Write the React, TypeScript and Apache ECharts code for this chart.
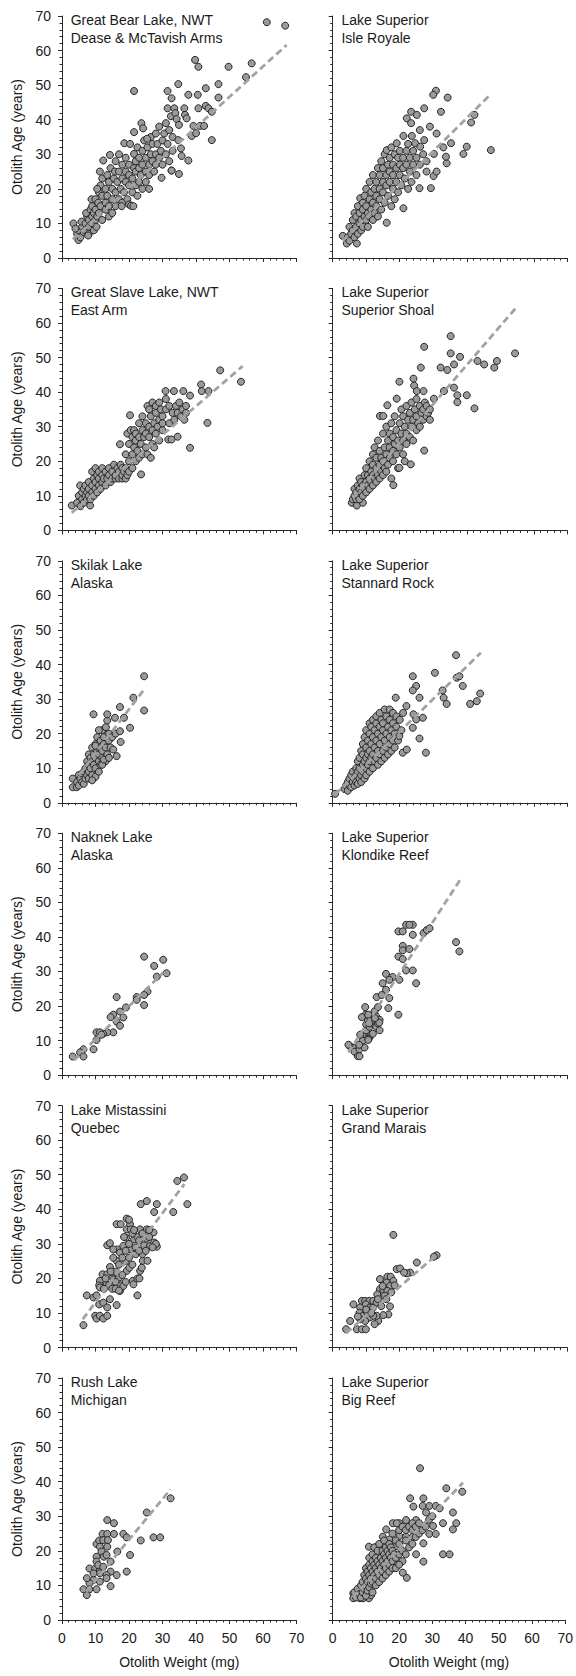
import React, { useEffect, useRef } from "react";
import * as echarts from "echarts";

// ---------- data ----------
const panelTitles: string[] = [
  "Great Bear Lake, NWT\nDease & McTavish Arms",
  "Lake Superior\nIsle Royale",
  "Great Slave Lake, NWT\nEast Arm",
  "Lake Superior\nSuperior Shoal",
  "Skilak Lake\nAlaska",
  "Lake Superior\nStannard Rock",
  "Naknek Lake\nAlaska",
  "Lake Superior\nKlondike Reef",
  "Lake Mistassini\nQuebec",
  "Lake Superior\nGrand Marais",
  "Rush Lake\nMichigan",
  "Lake Superior\nBig Reef",
];

const axisTicks: number[] = [0, 10, 20, 30, 40, 50, 60, 70];

const greatBearPts: number[][] = [
  [3.4, 10], [4.9, 5.2], [4.5, 7], [5, 8], [5.5, 6], [6, 9], [5.8, 10.5], [6.5, 7.5], [4, 8.5],
  [7, 8], [7, 10], [7.5, 12], [7.2, 13], [8, 9], [8, 11], [8.5, 14], [8, 7], [9, 10], [9, 12], [9, 15], [8.8, 17], [9.5, 13], [9.5, 8], [7.8, 6.5],
  [10, 11], [10, 14], [10, 17], [10.3, 9], [10.5, 12], [10.8, 16], [11, 19], [11, 13], [11.3, 25], [11.5, 21], [11.5, 15], [12, 18], [12, 11], [12.3, 28.2], [12, 23], [10.5, 20],
  [13, 14], [13, 16], [13, 20], [13.5, 24], [13.5, 18], [14, 12], [14, 15], [14, 22], [14.3, 29.8], [14.5, 26], [15, 17], [15, 20], [15, 13], [15.5, 23], [15.8, 25], [16, 15], [16, 19], [16, 28],
  [16.5, 22], [17, 17], [17, 25], [17, 30], [17.5, 20], [18, 16], [18, 23], [18, 27], [18.6, 33.2], [18.5, 19], [19, 22], [19, 25], [19, 29], [19.5, 17], [20, 21], [20, 24], [20, 27], [20, 15.5],
  [20.6, 15.1], [21.3, 15], [21, 19], [21, 23], [21.5, 30.1], [21.5, 26], [21.5, 36.4], [22, 21], [22, 25], [22, 28], [22.5, 18], [22.5, 32], [23, 22], [23, 26], [23, 29], [23.7, 39], [23.5, 24], [24, 20], [24, 27], [24, 31], [17.8, 15],
  [24.5, 34], [25, 22], [25, 25], [25, 29], [25.5, 32], [26, 27], [26, 24], [26.5, 30], [26.5, 35], [27, 28], [27, 33], [27.5, 25], [28, 30], [28, 27], [28, 36], [26, 20],
  [28.5, 33], [29, 29], [29, 38], [29.5, 31], [29.7, 23.2], [30, 27], [30, 34], [30.5, 36], [31, 30], [31, 39], [31.5, 33], [32, 28], [32, 37], [32.7, 25.3], [33, 35], [33, 31], [32.5, 41],
  [61.1, 68.2], [66.6, 67.2], [39.7, 57.3], [40.7, 55.3], [49.7, 55.3], [56.6, 56.3], [54.9, 52.3], [46.7, 50.3], [34.7, 50.3], [21.5, 48.3], [31.5, 48.3], [40.5, 47.2], [37.7, 47.2], [42.9, 49.1], [32.7, 46.2], [46.7, 46.4],
  [31.5, 43.3], [33.5, 43.3], [40.7, 43.3], [42.9, 44], [43.7, 43.3], [44.7, 42.3], [36.5, 43.3], [36.7, 41.4], [33.8, 41.9], [34.2, 40.2], [34.9, 38.5], [37.2, 40.4], [39.2, 38.2], [41.2, 38.2], [42.4, 38.2],
  [38.7, 35.3], [40, 36.1], [44.7, 34.1], [34.7, 34.1], [35.5, 31.7], [35.7, 29.5], [37.7, 28.2], [34.9, 24.3], [32.7, 25.3], [25.4, 34.5], [20.3, 33], [24.2, 37.5],
];
const greatBearFit: number[][] = [[3.2, 5.4], [67, 61.6]];

const isleRoyalePts: number[][] = [
  [3, 6.4], [4.2, 4.2], [7.2, 4.2], [4.5, 6], [5, 5], [5.5, 7], [5, 9], [6, 8], [6, 11], [6.5, 6], [6.5, 13], [7, 9], [7, 12], [7.5, 7], [7.5, 15],
  [8, 10], [8, 13], [8.2, 17.3], [8.5, 8], [8.5, 11], [9, 14], [9, 16], [9, 9], [9.5, 12], [9.5, 18], [10, 11], [10, 15], [10, 20], [10.5, 13], [10.5, 9],
  [11, 17], [11, 22], [11, 12], [11.5, 14], [11.5, 19], [12, 16], [12, 11], [12, 24], [12.5, 20], [12.5, 13], [13, 18], [13, 22], [13, 15], [13.5, 26], [13.5, 12],
  [14, 17], [14, 20], [14, 24], [14.5, 14], [14.5, 28], [15, 19], [15, 22], [15, 26], [15.5, 16], [15.5, 30], [16, 21], [16, 24], [16.1, 31.2], [16.1, 10.2],
  [16.5, 18], [16.5, 27], [17, 22], [17, 25], [17, 29], [17.5, 15], [17.5, 32], [18, 20], [18, 24], [18, 27], [18.5, 30], [18.5, 17], [19, 22], [19, 26], [19.1, 33.2],
  [19.5, 29], [19.5, 19], [20, 24], [20, 27], [20, 31], [20.5, 21], [21, 26], [21.1, 35.3], [21, 29], [21.1, 14.4], [21.5, 23], [22, 27], [22, 31], [22.5, 20], [22.5, 33],
  [23, 25], [23, 29], [23.6, 35.3], [23.5, 22], [24, 27], [24, 31], [24.6, 33.2], [25, 24], [25, 29], [25.9, 20.2], [26.1, 32.2], [26, 27], [27, 30], [27.3, 34.1],
  [28, 28], [28, 25], [29.3, 20.2], [30.1, 23.7], [31, 25], [30.2, 30.1], [34, 27.4], [33.8, 29.3], [35.3, 33.2], [33, 32], [40, 32.2], [39, 30.1], [47.2, 31.2],
  [41.3, 39.2], [42.3, 41.4], [32.3, 42.3], [27.3, 43.3], [23.4, 42.3], [25.1, 41.4], [22.1, 40.4], [23.4, 39], [30.8, 48.4], [30, 47.2], [34.3, 46.4], [31, 36], [29, 38], [26, 37],
];
const isleRoyaleFit: number[][] = [[3, 5], [47.2, 47.4]];

const greatSlavePts: number[][] = [
  [2.9, 7.2], [5.4, 13], [8.4, 7.2], [4.5, 8], [5, 10], [5.5, 7], [6, 9], [6, 11], [6.5, 12], [6.5, 8], [7, 10], [7, 13], [7.5, 9], [7.5, 11], [8, 12], [8, 10], [8, 14],
  [8.5, 9], [9, 11], [9, 13], [9, 17], [9.5, 10], [9.5, 15], [10, 12], [10, 14], [10, 18], [10.5, 11], [10.5, 16], [11, 13], [11, 15], [11, 17], [11.5, 12], [12, 14], [12, 16], [12, 18],
  [12.5, 15], [13, 13], [13, 17], [13.5, 15], [14, 16], [14, 18], [14.5, 14], [15, 15], [15, 17], [15.5, 19], [16, 15], [16, 16], [16.5, 18], [17, 15], [17, 17], [17.3, 24.9],
  [17.5, 19], [18, 15], [18, 16], [18, 18], [18.5, 17], [19, 15], [19, 18], [19, 22], [19.5, 16], [19.5, 28], [20, 17], [20, 20], [20, 25], [20.3, 33.3], [20.5, 29],
  [21, 18], [21, 22], [21, 27], [21.5, 24], [21.5, 29], [22, 20], [22, 26], [22, 28], [22.5, 23], [23, 21], [23, 27], [23, 31], [23.6, 16.2], [23.5, 25], [24, 22], [24, 29], [24, 33],
  [24.5, 27], [25, 24], [25, 28], [25, 31], [25.5, 36], [25.5, 22], [26, 27], [26, 30], [26, 35], [26.5, 21], [26.5, 33], [27, 25], [27, 29], [27, 37], [27.5, 31], [27.5, 24],
  [28, 28], [28, 34], [28, 36], [28.5, 30], [29, 26], [29, 32], [29, 37], [29.5, 35], [30, 29], [30, 33], [30, 31], [30.9, 40.3], [31, 35], [31, 38], [31.7, 26.3], [32, 31],
  [32.7, 26.3], [32, 36], [33, 34], [33.4, 40.3], [33.5, 32], [34, 36], [34.5, 27.1], [34.5, 34], [35, 37], [35.5, 33], [36, 35], [36.2, 40.3], [36.5, 32], [37, 34], [37, 36],
  [38.2, 39], [38.2, 23.9], [41.5, 42.2], [41.7, 40.3], [43.7, 40.3], [43.4, 31.1], [47.2, 46.3], [53.4, 43],
];
const greatSlaveFit: number[][] = [[2.9, 5.1], [53.9, 47.5]];

const superiorShoalPts: number[][] = [
  [5.7, 8], [7.2, 7.2], [9, 8], [6, 9], [6.5, 10], [6.5, 12], [7, 9], [7, 11], [7.5, 13], [7.5, 10], [8, 9], [8, 12], [8, 15], [8.5, 11], [8.5, 14], [9, 10], [9, 13],
  [9.5, 16], [9.5, 12], [10, 11], [10, 14], [10, 18], [10.5, 13], [10.5, 16], [11, 12], [11, 15], [11, 20], [11.5, 14], [11.5, 17], [12, 13], [12, 16], [12, 19], [12, 22],
  [12.5, 15], [12.5, 24], [13, 14], [13, 18], [13, 21], [13.5, 16], [13.5, 26], [14, 15], [14, 19], [14, 23], [14.1, 33.1], [14.5, 17], [14.5, 21], [15, 16], [15, 20], [15, 28],
  [15.1, 33.1], [15.5, 18], [15.5, 24], [16, 17], [16, 22], [16, 30], [16.3, 36.2], [16.5, 19], [16.5, 26], [17, 21], [17, 24], [17, 28], [17.5, 15], [17.5, 31], [18, 20],
  [18, 23], [18, 27], [18.1, 13.1], [18.5, 25], [18.5, 33], [19, 22], [19, 29], [19.1, 38.1], [19.5, 18], [19.5, 26], [19.9, 18.1], [20, 24], [20, 31], [20.5, 28], [20.5, 35],
  [21, 22], [21, 26], [21, 33], [21.5, 20], [21.5, 30], [22, 25], [22, 28], [22, 36], [22.5, 32], [23, 27], [23, 34], [23.3, 19.1], [23.5, 30], [23.5, 37], [24, 26], [24, 32],
  [24.5, 35], [25, 29], [25, 33], [25, 38], [25.5, 31], [26, 30], [26, 36], [26.5, 34], [27, 32], [27, 35], [27.3, 23.1], [27.5, 37], [28, 33], [28, 36], [28.5, 34], [29, 35], [29, 32],
  [26.3, 47.1], [19.9, 43], [24.1, 43.9], [24.3, 41.9], [25.1, 40.3], [27.1, 40.3], [30.2, 38.1], [33.2, 40.3], [36.2, 41.3], [37.2, 39.1], [40, 39.1], [37.2, 37.1], [42.3, 35.3],
  [32.2, 47.1], [34.2, 46.4], [36.2, 48], [35.2, 51.2], [38, 50.2], [35.2, 56.2], [27.3, 53.1], [43.2, 49], [45.2, 48], [48.2, 47.1], [49, 49], [54.4, 51.2],
];
const superiorShoalFit: number[][] = [[6, 9.5], [54.7, 64.4]];

const skilakPts: number[][] = [
  [3.2, 7], [3.2, 4.5], [4.4, 4.5], [4.5, 6], [5, 5], [5, 8], [5.5, 7], [6, 6], [6, 8.5], [6.5, 5.5], [6.5, 9], [7, 7], [7, 10], [7.5, 8], [7.5, 12], [8, 7], [8, 9], [8, 11], [8, 14],
  [8.5, 10], [8.5, 13], [9, 8], [9, 12], [9, 16], [9.4, 25.6], [9.5, 11], [9.5, 14], [10, 10], [10, 13], [10, 17], [10, 7.5], [10.5, 15], [10.5, 19], [11, 12], [11, 14], [11, 16],
  [11.5, 18], [11.5, 11], [12, 13], [12, 15], [12, 21], [12.5, 17], [12.5, 19], [13, 12], [13, 16], [13.1, 21.9], [13.5, 23.8], [13.5, 25.6], [13.5, 14], [14, 18], [14, 20],
  [14.5, 16], [15, 19], [15.3, 15.4], [15.8, 24.6], [16.3, 13.5], [16, 20], [17.3, 20.7], [17.3, 27.7], [17.5, 17.6], [18.5, 24.6], [20.3, 21.7], [21.3, 30.4], [24.5, 36.6],
  [24.5, 26.7], [11, 21], [12, 11], [9, 6.5], [11, 9], [12.5, 12.5], [14, 13], [10, 16.5],
];
const skilakFit: number[][] = [[5, 8], [24.3, 32.5]];

const stannardRockPts: number[][] = [
  [0.7, 2.6], [3.5, 4], [4, 5], [4.5, 6], [4.5, 3.5], [5, 5], [5, 7], [5.5, 4.5], [5.5, 8], [6, 6], [6, 9], [6.5, 5], [6.5, 7], [7, 6], [7, 8], [7, 10], [7.5, 5.5], [7.5, 9],
  [7.5, 12], [8, 7], [8, 10], [8, 13], [8.5, 6], [8.5, 8], [8.5, 15], [9, 9], [9, 11], [9, 14], [9, 17], [9.5, 7], [9.5, 12], [9.5, 19], [10, 8], [10, 10], [10, 13], [10, 16],
  [10, 21], [10.5, 11], [10.5, 14], [10.5, 18], [11, 9], [11, 12], [11, 15], [11, 20], [11, 23], [11.5, 13], [11.5, 17], [11.5, 22], [12, 10], [12, 14], [12, 19], [12, 24],
  [12.5, 12], [12.5, 16], [12.5, 21], [13, 13], [13, 18], [13, 23], [13, 25], [13.5, 11], [13.5, 15], [13.5, 20], [14, 14], [14, 17], [14, 22], [14, 26], [14.5, 12], [14.5, 19],
  [14.5, 24], [15, 15], [15, 21], [15, 23], [15.5, 13], [15.5, 18], [15.5, 27], [16, 16], [16, 20], [16, 25], [16.5, 14], [16.5, 22], [17, 17], [17, 19], [17, 24], [17, 27],
  [17.5, 15], [17.5, 21], [18, 18], [18, 23], [18, 26], [18.5, 16], [18.5, 20], [18.8, 30.4], [19, 22], [19, 25], [19.5, 18], [19.9, 19.3], [20, 24], [20.9, 14.5], [22.1, 15.4],
  [23.9, 21.7], [24.1, 25.6], [24.9, 24.1], [26.9, 24.6], [25.9, 18.6], [27.8, 14.5], [23.9, 36.6], [24.9, 33.8], [23.9, 32.5], [25.9, 30.4], [30.5, 37.6], [32.8, 32.5],
  [33.1, 30.4], [34, 28.6], [36.8, 42.7], [37, 36.2], [37.8, 36.6], [38.8, 33.8], [44, 31.6], [43, 29.4], [41, 28.6], [21, 26], [22, 28], [20.5, 21],
];
const stannardRockFit: number[][] = [[0.7, 2.4], [44.2, 43.4]];

const naknekPts: number[][] = [
  [24.5, 34.3], [30.2, 33.4], [27.5, 31.6], [31.2, 29.5], [28.3, 28.5], [24.5, 20.3], [25.5, 24.2], [24.5, 23.2], [22.3, 22.6], [22.3, 21.8], [16.3, 22.6], [19.1, 19.6],
  [17.3, 18.4], [15.3, 17.5], [14.5, 16.8], [18.3, 16.7], [16.3, 15.5], [17.3, 14.3], [15.3, 12.4], [13.5, 12.4], [12.3, 12], [10.3, 12.4], [11.3, 12.4], [10.3, 10.2],
  [9.4, 7.5], [6.4, 7.5], [5.4, 6.6], [6.4, 5.4], [3.2, 5.4], [11.8, 11.7],
];
const naknekFit: number[][] = [[3.6, 4.3], [30.2, 29.7]];

const klondikePts: number[][] = [
  [21.9, 43.5], [23.9, 43.5], [22.9, 43.5], [19.6, 41.6], [20.9, 41.6], [23.9, 40.6], [27.1, 41.1], [28.1, 42], [28.9, 42.5], [20.9, 37.4], [20.9, 36.1], [22.9, 36.5],
  [19.6, 34.3], [20.9, 33.6], [21.9, 30.3], [23.9, 30.3], [24.9, 26.6], [19.9, 27.6], [17.9, 28.4], [15.9, 29.3], [14.9, 26.6], [16.9, 27.6], [15.9, 24.7], [13.1, 22.6],
  [16.9, 22.3], [14.6, 23.2], [16.6, 19.4], [19.6, 17.5], [36.8, 38.5], [37.8, 35.8],
  [6, 8], [5, 8.5], [6.5, 6.8], [7.5, 5.5], [8, 5.5], [8, 7.5], [8.5, 9], [9, 10], [9, 12], [10, 13], [10, 14.7], [10.5, 16], [11, 11], [11, 14], [11, 17], [11.5, 15],
  [12, 12], [12, 16], [12.5, 18.5], [13, 14], [13, 17], [13.5, 15], [14, 13], [14, 16], [9.5, 8], [10.7, 10.5], [9.8, 17.5], [13.5, 19.7], [9.7, 19.7], [8.7, 16.8],
  [10.6, 17.5], [10.9, 15], [10.6, 10.2], [13.9, 15.2], [12.6, 16.5], [7.9, 8.8], [4.7, 8.8], [8.2, 11.7],
];
const klondikeFit: number[][] = [[4.7, 6.6], [38, 56.5]];

const mistassiniPts: number[][] = [
  [6.4, 6.5], [7.4, 15.1], [9.4, 14.5], [10.3, 15.1], [9.9, 9.2], [10.3, 8.4], [11.3, 9.2], [12.3, 8.4], [13.5, 9.2], [11.1, 12.5], [12.3, 13], [13.5, 11.6], [14.3, 14],
  [16.3, 12.3], [11.3, 19.3], [11.1, 18], [11.3, 17.4], [12.1, 21.2], [13.5, 21.2], [13.5, 29.6], [14.3, 30.2], [14.3, 23.3], [15.3, 19.8], [15.3, 21.7], [16.3, 25.1],
  [16.5, 28.4], [16.3, 35.7], [17.5, 35.7], [15.3, 28.4], [17.1, 20.3], [17.5, 18], [17.3, 16.4], [18.3, 17.8], [18.3, 29.4], [19.3, 37.3], [19.3, 34.2], [19.1, 31.8],
  [19.1, 25.1], [19.3, 22.2], [20.3, 35.7], [20.5, 34.2], [20.3, 28.4], [20.1, 23.1], [21.1, 19.3], [21.5, 31.3], [21.3, 18.3], [22.5, 20], [22.5, 15.1], [23.3, 22.2],
  [23.3, 34.2], [22.5, 32], [23.5, 41.5], [25.3, 42.4], [25.3, 34.2], [24.5, 29.6], [24.1, 25.1], [25.5, 25.1], [23.1, 20], [23.8, 23.1], [26.3, 29.4], [27.5, 30.4],
  [28.3, 29.2], [27.3, 33.3], [27.5, 39.2], [28.3, 41.5], [33.2, 39.2], [34.4, 48.2], [36.4, 49.2], [37.4, 41.5], [25.3, 31.5], [13.3, 18.3], [15.3, 26], [17.3, 27.5],
  [14, 18], [15, 17], [16, 19], [16, 22], [17, 24], [18, 21], [18, 26], [19, 19], [19, 28], [20, 26], [20, 30], [21, 24], [21, 33], [22, 27], [22, 29], [23, 31], [24, 33],
  [24, 27], [25, 28], [26, 34], [26, 32], [12.5, 17], [13, 20], [14.5, 22], [16, 17], [17, 16.5], [18.5, 32], [20, 37], [21.5, 34], [23, 28], [28, 30], [27, 29],
];
const mistassiniFit: number[][] = [[6.2, 8.2], [36.5, 47.3]];

const grandMaraisPts: number[][] = [
  [18.1, 32.6], [31, 26.7], [30.2, 26.3], [25.1, 24.6], [23.1, 21.7], [22.1, 21.5], [19.1, 22.7], [20.1, 22.9], [21.3, 21.7], [16.3, 20.5], [17.3, 20.5], [18.1, 19.3],
  [15.1, 17.8], [16.1, 18.8], [17.1, 17.8], [14.1, 16.9], [15.1, 16.7], [16.3, 16.4], [13.3, 15.4], [8.7, 13.5], [9.7, 13.5], [10.9, 13.5], [12.1, 13.5], [6.2, 12.5],
  [9.9, 12.5], [13.1, 13], [17.1, 11.9], [16.6, 9.6], [15.1, 9.4], [13.6, 7.7], [13.1, 9.2], [8.2, 11.6], [8, 10.1], [9, 9.2], [10.3, 10.1], [11.1, 8.7], [12.1, 9.2],
  [9.7, 7.7], [7.2, 5.3], [8.7, 5.3], [9.9, 5.3], [5.2, 7.7], [4, 5.3], [8.2, 8.2], [11.1, 11.6], [14.1, 19.8], [14.9, 17.8],
  [10, 11], [12, 11.5], [13.5, 14], [15.5, 15], [17.5, 16], [18.5, 18], [11.5, 10], [14.5, 12], [16, 14], [12.5, 6.8], [7.5, 9],
];
const grandMaraisFit: number[][] = [[4, 4.2], [31.2, 27]];

const rushLakePts: number[][] = [
  [32.4, 35.2], [25.3, 31.1], [13.5, 28.9], [15.5, 28], [12.1, 24.9], [13.5, 24.9], [15.5, 24.9], [18.3, 24.9], [19.3, 23.9], [23.5, 23], [27.3, 23.9], [29.3, 23.9],
  [20.3, 18.8], [16.5, 19.8], [10.3, 22], [11.1, 23], [12.3, 23.1], [13.7, 23.1], [11.3, 21.2], [13.5, 21.2], [11.8, 19.8], [12.5, 18.3], [10.3, 18.3], [10.3, 16.9],
  [14.5, 16.9], [13.3, 18.8], [8.2, 14.9], [9.9, 14.9], [11.3, 14.5], [11.3, 13.5], [14.5, 14], [16.3, 13], [13.3, 13], [13.3, 12.1], [19.3, 14], [14.5, 9.8], [11.3, 11.1],
  [9.4, 11.6], [8.2, 10.6], [6.4, 8.9], [8.2, 8.9], [10.3, 8.9], [7.4, 7.2], [9.4, 13.5], [7.4, 12.1], [10.8, 15.9], [12.3, 15.4],
];
const rushLakeFit: number[][] = [[7.2, 8.2], [32.4, 37.8]];

const bigReefPts: number[][] = [
  [26.3, 43.9], [34.2, 38.1], [39, 37.1], [36.2, 31.1], [37.2, 28], [36.2, 26.2], [33.2, 28], [33.2, 19], [35.2, 19], [27.3, 16.9], [23.3, 35.2], [27.3, 35.2], [24.3, 32.8],
  [27.1, 33], [29.1, 33], [31, 33], [32.2, 32.3], [28.1, 31.1], [25.1, 28.9], [22.1, 28.9], [20.1, 28], [18.1, 28], [19.3, 28], [16.1, 26.2], [15.1, 24.1], [10.9, 21.2],
  [13.3, 21.2], [14.1, 19.3], [17.1, 23.3], [20.1, 24.3], [22.1, 24.1], [24.1, 24.1], [27.3, 22.2], [29.1, 24.9], [31, 24.9], [30.2, 27.2], [25.1, 19], [22.3, 12.2],
  [21.1, 13.7], [19.1, 21.4], [6.2, 7.7], [6.2, 6.3], [8.2, 6.3], [7.4, 7.7], [10.9, 6.3], [9.2, 6.3], [11.6, 7.2],
  [6.5, 8], [7, 6.5], [7.5, 9], [8, 7.5], [8.5, 10], [8.5, 6.5], [9, 8], [9, 11], [9.5, 9], [9.5, 13], [10, 7], [10, 10], [10, 12], [10, 15], [10.5, 8.5], [10.5, 11],
  [10.5, 14], [11, 9.5], [11, 13], [11, 16], [11, 18], [11.5, 10.5], [11.5, 12], [11.5, 15], [12, 11], [12, 14], [12, 17], [12, 19], [12.5, 13], [12.5, 16], [12.5, 21],
  [13, 12], [13, 15], [13, 18], [13.5, 14], [13.5, 17], [13.5, 20], [14, 13], [14, 16], [14, 22], [14.5, 15], [14.5, 18], [15, 14], [15, 17], [15, 20], [15.5, 16], [15.5, 19],
  [15.5, 23], [16, 15], [16, 18], [16, 21], [16.5, 17], [16.5, 20], [17, 16], [17, 19], [17, 22], [17.5, 18], [17.5, 21], [18, 17], [18, 20], [18, 25], [18.5, 19], [19, 18],
  [19, 23], [19.5, 16], [20, 19], [20, 22], [20, 26], [21, 17], [21, 20], [21, 27], [22, 19], [22, 23], [22, 26], [23, 21], [23, 27], [24, 22], [24, 26], [24, 28], [25, 24],
  [25, 27], [26, 25], [26, 28], [27, 26], [28, 27], [29, 29], [30, 30], [12, 8], [13, 10], [14, 11], [15, 12], [16, 13], [17, 14], [18, 15], [19, 15], [20, 16],
];
const bigReefFit: number[][] = [[6, 6.6], [39.2, 39.7]];

const panelPoints: number[][][] = [
  greatBearPts, isleRoyalePts, greatSlavePts, superiorShoalPts, skilakPts, stannardRockPts,
  naknekPts, klondikePts, mistassiniPts, grandMaraisPts, rushLakePts, bigReefPts,
];
const panelFits: number[][][] = [
  greatBearFit, isleRoyaleFit, greatSlaveFit, superiorShoalFit, skilakFit, stannardRockFit,
  naknekFit, klondikeFit, mistassiniFit, grandMaraisFit, rushLakeFit, bigReefFit,
];

const xAxisName = "Otolith Weight (mg)";
const yAxisName = "Otolith Age (years)";

// ---------- layout ----------
const FONT = '"Liberation Sans", Arial, sans-serif';
const TEXT = "#1a1a1a";
const AXIS = "#2a2a2a";
const COL_LEFT = [62, 332.7];
const PLOT_W = 234.6;
const PLOT_H = 242;
const ROW0_BOTTOM = 258;
const ROW_STEP = 272.4;

function buildOption(): any {
  const grids: any[] = [];
  const xAxes: any[] = [];
  const yAxes: any[] = [];
  const series: any[] = [];
  const titles: any[] = [];
  panelTitles.forEach((t, i) => {
    const row = Math.floor(i / 2);
    const col = i % 2;
    const top = ROW0_BOTTOM + ROW_STEP * row - PLOT_H;
    grids.push({ left: COL_LEFT[col], top, width: PLOT_W, height: PLOT_H });
    const common = {
      gridIndex: i,
      type: "value",
      min: axisTicks[0],
      max: axisTicks[axisTicks.length - 1],
      interval: axisTicks[1] - axisTicks[0],
      splitLine: { show: false },
      axisLine: { show: true, onZero: false, lineStyle: { color: AXIS, width: 1 } },
      axisTick: { show: true, inside: false, length: 4, lineStyle: { color: AXIS, width: 1 } },
      minorTick: { show: true, splitNumber: 5, length: 2.5, lineStyle: { color: AXIS, width: 1 } },
      minorSplitLine: { show: false },
      nameLocation: "middle",
      nameTextStyle: { fontFamily: FONT, fontSize: 14, color: TEXT },
    };
    xAxes.push({
      ...common,
      axisLabel: {
        show: row === 5, fontFamily: FONT, fontSize: 14, color: TEXT, margin: 11,
        showMinLabel: true, showMaxLabel: true, hideOverlap: false,
      },
      name: row === 5 ? xAxisName : "",
      nameGap: 35,
    });
    yAxes.push({
      ...common,
      axisLabel: {
        show: col === 0, fontFamily: FONT, fontSize: 14, color: TEXT, margin: 11,
        showMinLabel: true, showMaxLabel: true, hideOverlap: false,
      },
      name: col === 0 ? yAxisName : "",
      nameGap: 38,
    });
    series.push({
      type: "scatter",
      xAxisIndex: i,
      yAxisIndex: i,
      data: panelPoints[i],
      symbol: "circle",
      symbolSize: 7,
      itemStyle: { color: "#9a9a9a", borderColor: "#262626", borderWidth: 1, opacity: 1 },
      z: 2,
    });
    series.push({
      type: "line",
      xAxisIndex: i,
      yAxisIndex: i,
      data: panelFits[i],
      symbol: "none",
      showSymbol: false,
      lineStyle: { color: "#a2a2a2", width: 2.8, type: [7, 4] },
      z: 3,
    });
    titles.push({
      text: t,
      left: COL_LEFT[col] + 8.7,
      top: top - 5,
      padding: 0,
      textStyle: { fontFamily: FONT, fontSize: 14, fontWeight: "normal", color: TEXT, lineHeight: 18 },
    });
  });
  return {
    animation: false,
    backgroundColor: "#ffffff",
    title: titles,
    grid: grids,
    xAxis: xAxes,
    yAxis: yAxes,
    series,
  };
}

export default function App() {
  const ref = useRef<HTMLDivElement>(null);
  useEffect(() => {
    document.body.style.margin = "0";
    if (!ref.current) return;
    const chart = echarts.init(ref.current, undefined, { renderer: "svg" });
    chart.setOption(buildOption());
    return () => chart.dispose();
  }, []);
  return <div ref={ref} style={{ width: 576, height: 1676 }} />;
}
